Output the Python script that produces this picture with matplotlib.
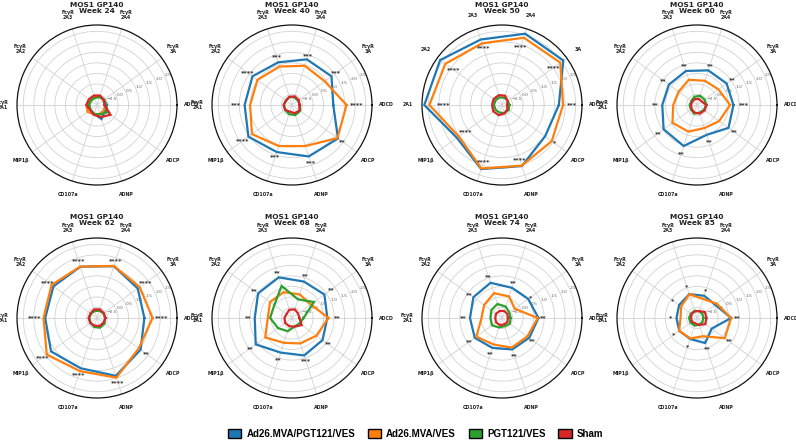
import numpy as np
import matplotlib
matplotlib.use("Agg")
import matplotlib.pyplot as plt
from matplotlib.patches import Patch

# ---------------- data ----------------
features = ["ADCD", "FcγR\n3A", "FcγR\n2A4", "FcγR\n2A3", "FcγR\n2A2",
            "FcγR\n2A1", "MIP1β", "CD107a", "ADNP", "ADCP"]
features_short = ["ADCD", "3A", "2A4", "2A3", "2A2", "2A1", "MIP1β", "CD107a", "ADNP", "ADCP"]
weeks = ["Week 24", "Week 40", "Week 50", "Week 60", "Week 62", "Week 68", "Week 74", "Week 85"]
groups = ["Ad26.MVA/PGT121/VES", "Ad26.MVA/VES", "PGT121/VES", "Sham"]
group_colors = ["#1f77b4", "#ff7f0e", "#2ca02c", "#d62728"]

# order of values follows `features`
wk24_ad26_pgt = [-0.53, -0.59, -0.57, -0.60, -0.60, -0.57, -0.60, -0.56, -0.30, -0.53]
wk24_ad26 =     [-0.62, -0.62, -0.60, -0.60, -0.57, -0.49, -0.45, -0.53, -0.56, -0.59]
wk24_pgt =      [-0.59, -0.57, -0.60, -0.65, -0.65, -0.64, -0.62, -0.56, -0.53, -0.41]
wk24_sham =     [-0.64, -0.60, -0.53, -0.53, -0.53, -0.49, -0.60, -0.51, -0.40, -0.21]
wk24_stars =    ["", "", "", "", "", "", "", "", "", ""]
wk24_star_r =   [0, 0, 0, 0, 0, 0, 0, 0, 0, 0]

wk40_ad26_pgt = [0.96, 1.32, 1.28, 1.13, 1.32, 1.25, 1.56, 1.35, 1.57, 1.70]
wk40_ad26 =     [1.59, 0.92, 0.96, 0.92, 1.03, 0.99, 1.35, 1.05, 1.05, 1.67]
wk40_pgt =      [-0.62, -0.65, -0.62, -0.60, -0.65, -0.62, -0.60, -0.55, -0.50, -0.52]
wk40_sham =     [-0.65, -0.60, -0.57, -0.59, -0.64, -0.60, -0.60, -0.67, -0.59, -0.56]
wk40_stars =    ["****", "***", "***", "***", "****", "***", "****", "***", "***", "**"]
wk40_star_r =   [2.09, 1.59, 1.48, 1.39, 1.62, 1.67, 1.92, 1.57, 1.87, 1.97]

wk50_ad26_pgt = [1.70, 2.60, 2.56, 2.27, 2.63, 2.69, 1.65, 2.20, 2.05, 1.53]
wk50_ad26 =     [1.90, 2.42, 2.36, 2.08, 2.33, 2.45, 1.54, 2.17, 2.03, 1.92]
wk50_pgt =      [-0.65, -0.66, -0.64, -0.62, -0.62, -0.62, -0.62, -0.62, -0.60, -0.60]
wk50_sham =     [-0.76, -0.67, -0.54, -0.51, -0.51, -0.53, -0.49, -0.49, -0.59, -0.68]
wk50_stars =    ["***", "****", "****", "****", "****", "****", "****", "****", "****", "*"]
wk50_star_r =   [2.30, 2.03, 1.89, 1.87, 1.84, 1.78, 1.12, 1.81, 1.75, 2.06]

wk60_ad26_pgt = [0.73, 0.74, 0.73, 0.70, 0.65, 0.65, 0.96, 1.05, 0.49, 0.85]
wk60_ad26 =     [0.57, 0.26, 0.21, 0.26, 0.08, 0.13, 0.44, 0.33, 0.15, 0.30]
wk60_pgt =      [-0.56, -0.56, -0.54, -0.59, -0.67, -0.65, -0.64, -0.57, -0.62, -0.60]
wk60_sham =     [-0.56, -0.72, -0.70, -0.70, -0.72, -0.72, -0.68, -0.62, -0.57, -0.56]
wk60_stars =    ["***", "**", "**", "**", "**", "**", "**", "**", "**", "**"]
wk60_star_r =   [1.22, 1.06, 0.98, 0.98, 0.98, 0.98, 1.29, 1.41, 0.84, 1.18]

wk62_ad26_pgt = [1.25, 1.39, 1.59, 1.56, 1.56, 1.46, 1.70, 1.51, 1.89, 1.56]
wk62_ad26 =     [1.64, 1.50, 1.60, 1.57, 1.67, 1.54, 1.95, 1.65, 1.98, 1.45]
wk62_pgt =      [-0.62, -0.62, -0.64, -0.65, -0.65, -0.64, -0.62, -0.56, -0.52, -0.56]
wk62_sham =     [-0.60, -0.60, -0.57, -0.57, -0.62, -0.60, -0.60, -0.62, -0.60, -0.62]
wk62_stars =    ["****", "****", "****", "****", "****", "****", "****", "****", "****", "**"]
wk62_star_r =   [2.05, 1.85, 1.85, 1.85, 1.88, 1.96, 2.20, 1.83, 2.24, 1.90]

wk68_ad26_pgt = [0.68, 0.90, 0.82, 1.03, 0.99, 0.77, 1.13, 0.73, 0.87, 0.79]
wk68_ad26 =     [0.73, 0.10, 0.18, 0.29, 0.29, 0.15, 0.57, 0.24, 0.27, 0.43]
wk68_pgt =      [-0.45, 0.29, -0.07, 0.60, 0.04, 0.04, -0.18, -0.34, -0.58, -0.56]
wk68_sham =     [-0.65, -0.64, -0.57, -0.59, -0.68, -0.64, -0.60, -0.59, -0.57, -0.43]
wk68_stars =    ["**", "**", "**", "**", "**", "**", "**", "**", "***", "**"]
wk68_star_r =   [1.17, 1.31, 1.09, 1.28, 1.23, 1.10, 1.45, 1.10, 1.14, 1.10]

wk74_ad26_pgt = [0.73, 0.54, 0.51, 0.76, 0.68, 0.52, 0.60, 0.49, 0.57, 0.60]
wk74_ad26 =     [0.70, -0.25, 0.08, 0.24, 0.05, -0.03, 0.51, 0.32, 0.48, 0.49]
wk74_pgt =      [-0.59, -0.57, -0.43, -0.30, -0.37, -0.45, -0.41, -0.53, -0.59, -0.54]
wk74_sham =     [-0.72, -0.68, -0.65, -0.65, -0.65, -0.68, -0.65, -0.65, -0.68, -0.68]
wk74_stars =    ["**", "*", "**", "**", "**", "**", "**", "**", "**", "**"]
wk74_star_r =   [0.98, 0.65, 0.77, 1.04, 0.91, 0.85, 0.90, 0.76, 0.90, 0.80]

wk85_ad26_pgt = [0.62, 0.07, 0.11, 0.19, 0.05, -0.03, 0.04, 0.05, 0.25, -0.14]
wk85_ad26 =     [0.62, 0.16, -0.05, 0.19, -0.07, -0.22, 0.05, 0.02, -0.09, 0.63]
wk85_pgt =      [-0.70, -0.68, -0.66, -0.64, -0.64, -0.62, -0.62, -0.62, -0.66, -0.68]
wk85_sham =     [-0.56, -0.53, -0.65, -0.67, -0.68, -0.72, -0.70, -0.73, -0.65, -0.51]
wk85_stars =    ["**", "", "*", "*", "*", "*", "*", "*", "**", "**"]
wk85_star_r =   [0.90, 0, 0.36, 0.57, 0.41, 0.27, 0.36, 0.41, 0.52, 0.87]

panels = [
    (wk24_ad26_pgt, wk24_ad26, wk24_pgt, wk24_sham, wk24_stars, wk24_star_r),
    (wk40_ad26_pgt, wk40_ad26, wk40_pgt, wk40_sham, wk40_stars, wk40_star_r),
    (wk50_ad26_pgt, wk50_ad26, wk50_pgt, wk50_sham, wk50_stars, wk50_star_r),
    (wk60_ad26_pgt, wk60_ad26, wk60_pgt, wk60_sham, wk60_stars, wk60_star_r),
    (wk62_ad26_pgt, wk62_ad26, wk62_pgt, wk62_sham, wk62_stars, wk62_star_r),
    (wk68_ad26_pgt, wk68_ad26, wk68_pgt, wk68_sham, wk68_stars, wk68_star_r),
    (wk74_ad26_pgt, wk74_ad26, wk74_pgt, wk74_sham, wk74_stars, wk74_star_r),
    (wk85_ad26_pgt, wk85_ad26, wk85_pgt, wk85_sham, wk85_stars, wk85_star_r),
]

r_ticks = [-0.5, 0.0, 0.5, 1.0, 1.5, 2.0, 2.5]

# ---------------- layout ----------------
W, H = 796, 442
fig = plt.figure(figsize=(W / 100, H / 100), dpi=100)
fig.patch.set_facecolor("white")

centers_x = [97, 292, 502, 697]
centers_y = [105, 318]
title_y = [8, 220]
R = 80

theta = np.deg2rad(np.arange(len(features)) * 36.0)
theta_closed = np.append(theta, theta[0])

for i, (week, data) in enumerate(zip(weeks, panels)):
    row, col = divmod(i, 4)
    cx, cy = centers_x[col], centers_y[row]
    ax = fig.add_axes([(cx - R) / W, (H - cy - R) / H, 2 * R / W, 2 * R / H],
                      projection="polar")
    ax.set_facecolor("white")
    series = data[:4]
    stars, star_r = data[4], data[5]
    for vals, c in zip(series, group_colors):
        v = np.append(vals, vals[0])
        ax.plot(theta_closed, v, color=c, lw=1.6, solid_joinstyle="miter")
    for t, s, rr in zip(theta, stars, star_r):
        if s:
            ax.text(t, rr, s, ha="center", va="center", fontsize=4.6,
                    fontweight="bold", color="#333333")
    ax.set_ylim(-1.0, 2.8)
    ax.set_yticks(r_ticks)
    ax.set_yticklabels([f"{t:.1f}".replace("-", "\u2212") for t in r_ticks],
                       fontsize=3.2, color="#666666")
    ax.set_rlabel_position(22.5)
    ax.set_xticks(theta)
    labs = features_short if week == "Week 50" else features
    ax.set_xticklabels(labs, fontsize=3.4, fontweight="bold", color="#222222",
                       linespacing=1.0)
    ax.tick_params(axis="x", pad=0)
    ax.grid(True, color="#d2d2d2", lw=0.6)
    ax.spines["polar"].set_color("#111111")
    ax.spines["polar"].set_linewidth(0.9)
    fig.text(cx / W, 1 - title_y[row] / H, f"MOS1 GP140\n{week}", ha="center",
             va="center", fontsize=5.3, fontweight="bold", color="#222222",
             linespacing=1.15)

handles = [Patch(facecolor=c, edgecolor="black", lw=1.0) for c in group_colors]
fig.legend(handles, groups, loc="center", bbox_to_anchor=(0.522, 0.018), ncol=4,
           frameon=False, prop={"family": "Liberation Sans", "weight": "bold", "size": 7},
           handlelength=1.4, handleheight=1.1, columnspacing=1.3, handletextpad=0.5)

fig.savefig("out.png", dpi=100, facecolor="white")
